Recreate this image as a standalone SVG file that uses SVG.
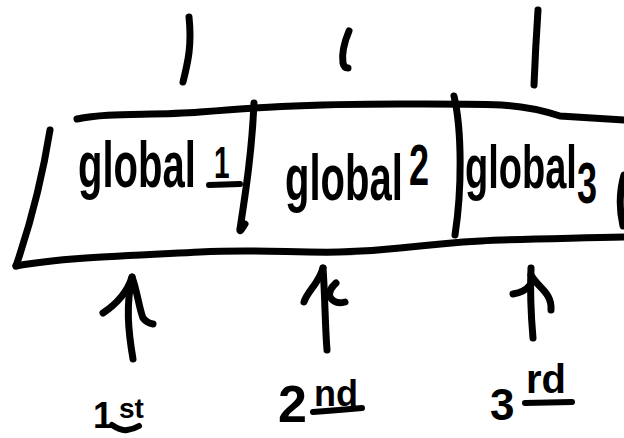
<svg xmlns="http://www.w3.org/2000/svg" width="624" height="438" viewBox="0 0 624 438">
  <style>
    .ink { fill: none; stroke: #000; stroke-width: 7; stroke-linecap: round; stroke-linejoin: round; }
    .thin { stroke-width: 6; }
    .hand { font-family: "Liberation Sans", "DejaVu Sans", sans-serif; font-weight: bold; fill: #000; }
  </style>
  <rect width="624" height="438" fill="#fff"/>

  <!-- outer outline of the array strip -->
  <g id="array-frame">
    <path class="ink" d="M77,119 C 110,112 150,116 200,112 S 300,104 400,104 S 520,103 560,116 L 624,120"/>
    <path class="ink" d="M50,130 C 42,180 30,225 16,266"/>
    <path class="ink" d="M16,266 C 60,258 120,256 200,252 S 320,257 400,248 S 500,240 624,237"/>
  </g>

  <!-- slot 1 -->
  <g id="cell-1">
    <text class="hand" transform="translate(78,187) scale(1,1.6)" font-size="40">global<tspan x="136" dy="-5.6" font-size="28">1</tspan></text>
    <path class="ink thin" d="M209,185 L 240,184"/>
  </g>

  <!-- slot 2 -->
  <g id="cell-2">
    <path class="ink" d="M254,103 C 252,150 246,190 240,229 Q 239,234 245,224"/>
    <text class="hand" transform="translate(285,200) scale(1,1.6)" font-size="40">global<tspan x="124" dy="-9.4" font-size="36">2</tspan></text>
  </g>

  <!-- slot 3 -->
  <g id="cell-3">
    <path class="ink" d="M454,96 C 462,130 462,190 455,235"/>
    <text class="hand" transform="translate(465,188) scale(1,1.6)" font-size="38">global<tspan x="112" dy="9.4" font-size="36">3</tspan></text>
  </g>

  <!-- start of the next slot, cut at the edge -->
  <g id="cell-4">
    <path class="ink" d="M624,175 Q 617,200 623,226"/>
  </g>

  <!-- tick marks above the slots -->
  <g id="ticks">
    <path class="ink" d="M189,17 C 192,45 188,62 183,82"/>
    <path class="ink" d="M349,31 Q 341,50 343,63 Q 344,68 348,68"/>
    <path class="ink" d="M538,10 C 536,40 535,60 534,85"/>
  </g>

  <!-- pointers from the ordinals up to the slots -->
  <g id="connectors">
    <path class="ink" d="M133,359 C 128,330 126,305 132,277"/>
    <path class="ink" d="M103,313 C 118,303 128,290 132,277 C 137,290 139,308 143,318 Q 147,323 153,324"/>

    <path class="ink" d="M327,350 C 325,325 325,295 323,268"/>
    <path class="ink" d="M304,302 C 308,290 318,285 323,268"/>
    <path class="ink" d="M336,283 Q 328,290 330,297 Q 335,305 345,302"/>

    <path class="ink" d="M533,338 C 531,315 530,290 531,268"/>
    <path class="ink" d="M513,294 Q 525,292 530,285"/>
    <path class="ink" d="M531,275 C 538,288 552,292 551,310"/>
  </g>

  <!-- ordinal labels -->
  <g id="label-1st">
    <text class="hand" x="93" y="428" font-size="36">1<tspan x="119" y="418" font-size="28">st</tspan></text>
    <path class="ink thin" d="M112,425 Q 121,431 127,430 Q 134,429 139,426"/>
  </g>
  <g id="label-2nd">
    <text class="hand" x="278" y="422" font-size="52">2<tspan x="314" y="406" font-size="36">nd</tspan></text>
    <path class="ink thin" d="M313,412 Q 340,410 362,408"/>
  </g>
  <g id="label-3rd">
    <text class="hand" x="490" y="420" font-size="44">3<tspan x="526" y="393" font-size="40">rd</tspan></text>
    <path class="ink thin" d="M525,403 L 572,402"/>
  </g>
</svg>
